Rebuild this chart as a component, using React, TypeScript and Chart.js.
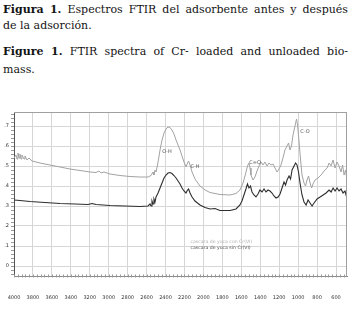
import React, { useEffect, useRef } from "react";
import { Chart, registerables } from "chart.js";

Chart.register(...registerables);

// ---- data (wavenumber cm-1, absorbance-like units) ----
const conWave = [
  4000, 3979, 3968, 3958, 3947, 3937, 3926, 3916, 3894, 3884, 3863, 3842, 3810, 3725, 3620, 3514, 3409, 3303, 3197,
  3134, 3102, 3081, 3050, 2986, 2881, 2775, 2669, 2585, 2553, 2532, 2522, 2511, 2500, 2479, 2458, 2437, 2416, 2395,
  2374, 2353, 2332, 2311, 2289, 2268, 2247, 2226, 2205, 2184, 2168, 2157, 2141, 2120, 2089, 2036, 1983, 1930, 1825,
  1719, 1656, 1614, 1582, 1561, 1540, 1530, 1519, 1508, 1498, 1477, 1456, 1434, 1413, 1392, 1371, 1350, 1329, 1308,
  1287, 1265, 1244, 1223, 1202, 1181, 1160, 1139, 1117, 1101, 1086, 1070, 1054, 1033, 1017, 1006, 990, 974, 959, 938,
  922, 906, 890, 874, 858, 843, 821, 790, 758, 726, 694, 673, 652, 631, 610, 589, 568, 547, 531, 515, 499, 488, 484,
];
const conAbs = [
  0.54, 0.555, 0.535, 0.565, 0.54, 0.56, 0.535, 0.555, 0.535, 0.55, 0.53, 0.54, 0.525, 0.515, 0.505, 0.495, 0.485,
  0.4775, 0.47, 0.4675, 0.475, 0.465, 0.47, 0.46, 0.4525, 0.4475, 0.445, 0.445, 0.4525, 0.47, 0.455, 0.48, 0.47, 0.52,
  0.58, 0.63, 0.665, 0.685, 0.695, 0.6925, 0.68, 0.66, 0.63, 0.605, 0.58, 0.55, 0.52, 0.495, 0.515, 0.525, 0.505, 0.47,
  0.435, 0.4, 0.38, 0.3675, 0.3575, 0.355, 0.3625, 0.38, 0.415, 0.45, 0.49, 0.505, 0.515, 0.49, 0.455, 0.43, 0.445,
  0.475, 0.5, 0.52, 0.505, 0.52, 0.5, 0.515, 0.505, 0.51, 0.49, 0.47, 0.485, 0.505, 0.54, 0.58, 0.6, 0.615, 0.58, 0.6,
  0.655, 0.7, 0.735, 0.705, 0.62, 0.53, 0.455, 0.415, 0.4, 0.43, 0.45, 0.415, 0.39, 0.41, 0.43, 0.44, 0.455, 0.475,
  0.49, 0.515, 0.5, 0.53, 0.49, 0.52, 0.5, 0.47, 0.505, 0.455, 0.48, 0.44, 0.33,
];
const sinWave = [
  4000, 3937, 3831, 3673, 3514, 3356, 3219, 3176, 3134, 2986, 2828, 2669, 2585, 2564, 2553, 2543, 2532, 2522, 2511,
  2500, 2479, 2458, 2437, 2416, 2395, 2374, 2353, 2332, 2311, 2289, 2268, 2247, 2226, 2205, 2184, 2168, 2157, 2141,
  2120, 2089, 2036, 1983, 1930, 1878, 1825, 1719, 1656, 1614, 1593, 1572, 1551, 1535, 1519, 1503, 1487, 1466, 1445,
  1424, 1403, 1381, 1360, 1339, 1318, 1297, 1276, 1255, 1233, 1212, 1191, 1170, 1149, 1133, 1117, 1096, 1080, 1064,
  1043, 1027, 1012, 996, 980, 959, 938, 916, 895, 874, 853, 832, 800, 768, 736, 705, 673, 652, 631, 610, 589, 568, 547,
  526, 505, 488, 484,
];
const sinAbs = [
  0.33, 0.3275, 0.3225, 0.3175, 0.3125, 0.31, 0.3075, 0.3125, 0.3075, 0.3025, 0.3, 0.2975, 0.3, 0.31, 0.3, 0.325, 0.31,
  0.335, 0.32, 0.345, 0.365, 0.39, 0.415, 0.44, 0.455, 0.465, 0.4675, 0.4625, 0.4525, 0.44, 0.425, 0.41, 0.39, 0.375,
  0.365, 0.38, 0.385, 0.365, 0.345, 0.325, 0.305, 0.2925, 0.285, 0.2875, 0.2775, 0.2775, 0.285, 0.305, 0.325, 0.355,
  0.385, 0.41, 0.39, 0.4, 0.37, 0.355, 0.345, 0.36, 0.38, 0.37, 0.385, 0.37, 0.38, 0.375, 0.365, 0.35, 0.34, 0.345,
  0.36, 0.39, 0.42, 0.405, 0.43, 0.45, 0.435, 0.48, 0.5, 0.515, 0.505, 0.47, 0.415, 0.355, 0.32, 0.305, 0.33, 0.315,
  0.3, 0.315, 0.335, 0.345, 0.355, 0.365, 0.38, 0.37, 0.39, 0.375, 0.39, 0.375, 0.385, 0.365, 0.375, 0.345, 0.265,
];

const seriesNames = ["cascara de yuca con Cr(VI)", "cascara de yuca sin Cr(VI)"];
const xTickValues = [4000, 3800, 3600, 3400, 3200, 3000, 2800, 2600, 2400, 2200, 2000, 1800, 1600, 1400, 1200, 1000, 800, 600];
const yTickValues = [0, 0.1, 0.2, 0.3, 0.4, 0.5, 0.6, 0.7];
const yTickLabels = ["0", ".1", ".2", ".3", ".4", ".5", ".6", ".7"];
const bandLabels = ["O-H", "C-H", "C=O", "C-O"];
const bandWave = [2384, 2089, 1455, 927];
const bandAbs = [0.57, 0.495, 0.515, 0.67];

const toPoints = (w: number[], a: number[]) => w.map((x, i) => ({ x, y: a[i] }));

const extrasPlugin = {
  id: "extras",
  afterDraw(chart: any) {
    const { ctx, chartArea, scales } = chart;
    const xs = scales.x;
    const ys = scales.y;
    ctx.save();
    // top & right frame
    ctx.strokeStyle = "#a0a0a0";
    ctx.lineWidth = 1;
    ctx.beginPath();
    ctx.moveTo(chartArea.left, Math.round(chartArea.top) + 0.5);
    ctx.lineTo(chartArea.right, Math.round(chartArea.top) + 0.5);
    ctx.moveTo(Math.round(chartArea.right) - 0.5, chartArea.top);
    ctx.lineTo(Math.round(chartArea.right) - 0.5, chartArea.bottom);
    ctx.stroke();
    // minor ticks on x axis
    ctx.strokeStyle = "#9a9a9a";
    ctx.beginPath();
    for (let w = 4000; w >= 500; w -= 40) {
      const px = Math.round(xs.getPixelForValue(w)) + 0.5;
      ctx.moveTo(px, chartArea.bottom - 1.5);
      ctx.lineTo(px, chartArea.bottom + 1.5);
    }
    // minor ticks on y axis
    for (let k = -2; k <= 38; k++) {
      const v = k * 0.02;
      const py = Math.round(ys.getPixelForValue(v)) + 0.5;
      if (py < chartArea.top || py > chartArea.bottom) continue;
      ctx.moveTo(chartArea.left - 3, py);
      ctx.lineTo(chartArea.left, py);
    }
    ctx.stroke();
    // band annotations
    ctx.font = "5px 'DejaVu Sans'";
    ctx.fillStyle = "#555";
    ctx.textAlign = "center";
    ctx.textBaseline = "middle";
    bandLabels.forEach((t, i) => {
      ctx.fillText(t, xs.getPixelForValue(bandWave[i]), ys.getPixelForValue(bandAbs[i]));
    });
    // legend
    ctx.textAlign = "left";
    ctx.font = "4.6px 'DejaVu Sans'";
    const lx = chartArea.left + (chartArea.right - chartArea.left) * 0.53;
    const ly = chartArea.top + (chartArea.bottom - chartArea.top) * 0.79;
    ctx.fillStyle = "#b0b0b0";
    ctx.fillText(seriesNames[0], lx, ly);
    ctx.fillStyle = "#555";
    ctx.fillText(seriesNames[1], lx, ly + 6);
    ctx.restore();
  },
};

export default function App() {
  const ref = useRef<HTMLCanvasElement | null>(null);

  useEffect(() => {
    if (!ref.current) return;
    const chart = new Chart(ref.current, {
      type: "line",
      data: {
        datasets: [
          {
            label: seriesNames[0],
            data: toPoints(conWave, conAbs),
            borderColor: "#a2a2a2",
            borderWidth: 1,
            pointRadius: 0,
            tension: 0,
          },
          {
            label: seriesNames[1],
            data: toPoints(sinWave, sinAbs),
            borderColor: "#2e2e2e",
            borderWidth: 1.1,
            pointRadius: 0,
            tension: 0,
          },
        ],
      },
      options: {
        responsive: false,
        animation: false,
        devicePixelRatio: 1,
        layout: { padding: { top: 12, right: 5, left: 0, bottom: 0 } },
        plugins: { legend: { display: false }, tooltip: { enabled: false }, title: { display: false } },
        scales: {
          x: {
            type: "linear",
            reverse: true,
            min: 484,
            max: 4000,
            afterBuildTicks: (s: any) => {
              s.ticks = xTickValues.map((v) => ({ value: v }));
            },
            afterFit: (s: any) => {
              s.height = 36;
              s.paddingLeft = 0;
              s.paddingRight = 0;
            },
            grid: { color: "#d6d6d6", lineWidth: 1, drawTicks: false },
            border: { color: "#8a8a8a", width: 1 },
            ticks: {
              padding: 19,
              autoSkip: false,
              maxRotation: 0,
              color: "#333",
              font: { size: 5, family: "'DejaVu Sans'" },
              callback: (v: any) => String(v),
            },
          },
          y: {
            type: "linear",
            min: -0.05,
            max: 0.77,
            afterBuildTicks: (s: any) => {
              s.ticks = yTickValues.map((v) => ({ value: v }));
            },
            afterFit: (s: any) => {
              s.width = 14;
              s.paddingTop = 0;
              s.paddingBottom = 0;
            },
            grid: { color: "#d6d6d6", lineWidth: 1, drawTicks: false },
            border: { color: "#555", width: 1 },
            ticks: {
              padding: 5,
              autoSkip: false,
              color: "#333",
              font: { size: 5, family: "'DejaVu Sans'" },
              callback: (_v: any, i: number) => yTickLabels[i],
            },
          },
        },
      },
      plugins: [extrasPlugin],
    });
    return () => chart.destroy();
  }, []);

  const lineBase: React.CSSProperties = {
    position: "absolute",
    left: 3,
    width: 345,
    fontFamily: "'DejaVu Serif', serif",
    fontSize: 11,
    lineHeight: "12px",
    color: "#141414",
    whiteSpace: "nowrap",
  };
  const justified: React.CSSProperties = { ...lineBase, textAlign: "justify", textAlignLast: "justify" as any };

  return (
    <div
      style={{
        position: "fixed",
        left: 0,
        top: 0,
        width: 352,
        height: 312,
        background: "#fff",
        overflow: "hidden",
      }}
    >
      <div style={{ ...justified, top: 4 }}>
        <b>Figura 1.</b> Espectros FTIR del adsorbente antes y después
      </div>
      <div style={{ ...lineBase, top: 19.5 }}>de la adsorción.</div>
      <div style={{ ...justified, top: 46 }}>
        <b>Figure 1.</b> FTIR spectra of Cr- loaded and unloaded bio-
      </div>
      <div style={{ ...lineBase, top: 64 }}>mass.</div>
      <canvas
        ref={ref}
        width={352}
        height={212}
        style={{ position: "absolute", left: 0, top: 100, display: "block" }}
      />
    </div>
  );
}
